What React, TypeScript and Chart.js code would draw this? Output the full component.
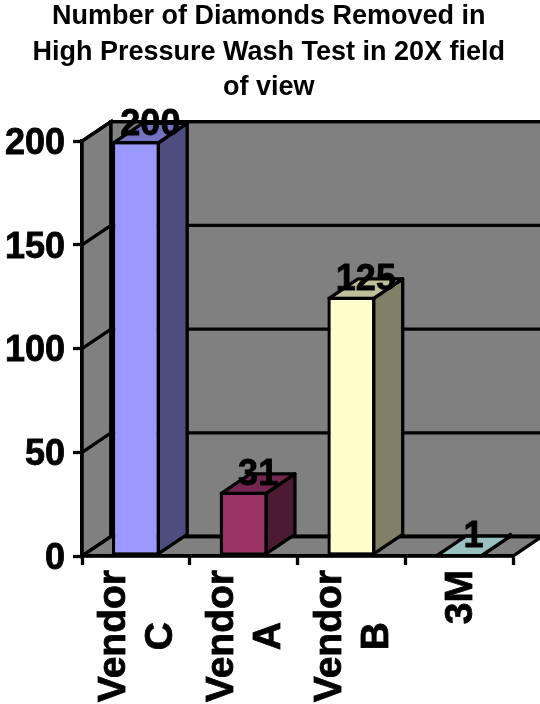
import React, { useEffect, useRef } from "react";
import { Chart, registerables } from "chart.js";

Chart.register(...registerables);

const categories: string[][] = [["Vendor", "C"], ["Vendor", "A"], ["Vendor", "B"], ["3M"]];
const values: number[] = [200, 31, 125, 1];
const frontColors = ["#9999FF", "#993366", "#FFFFCC", "#CCFFFF"];
const sideColors = ["#4D4D80", "#4D1A33", "#808066", "#668080"];
const topColors = ["#7373BF", "#732650", "#BFBF99", "#99BFBF"];
const titleLines = [
  "Number of Diamonds Removed in",
  "High Pressure Wash Test in 20X field",
  "of view",
];

const FONT = "'Liberation Sans', Arial, sans-serif";
const DX = 29;
const DY = 19.5;
const LINE = 3.3;

function poly(ctx: CanvasRenderingContext2D, pts: number[][], fill?: string) {
  ctx.beginPath();
  pts.forEach(([x, y], i) => (i ? ctx.lineTo(x, y) : ctx.moveTo(x, y)));
  ctx.closePath();
  if (fill) {
    ctx.fillStyle = fill;
    ctx.fill();
  }
  ctx.stroke();
}

function heavyText(ctx: CanvasRenderingContext2D, s: string, x: number, y: number) {
  ctx.fillText(s, x, y);
  ctx.strokeText(s, x, y);
}

const threeD = {
  id: "threeD",
  beforeDraw(chart: any) {
    const { ctx, chartArea: a, scales } = chart;
    const yS = scales.y;
    ctx.save();
    ctx.strokeStyle = "#000";
    ctx.lineWidth = LINE;
    const t = a.top, b = a.bottom, l = a.left, r = a.right;
    poly(ctx, [[l, b], [l + DX, b - DY], [l + DX, t - DY], [l, t]], "#808080");
    poly(ctx, [[l + DX, t - DY], [r + DX, t - DY], [r + DX, b - DY], [l + DX, b - DY]], "#808080");
    poly(ctx, [[l, b], [r, b], [r + DX, b - DY], [l + DX, b - DY]], "#808080");
    yS.ticks.forEach((tk: any) => {
      const y = yS.getPixelForValue(tk.value);
      ctx.beginPath();
      ctx.moveTo(l, y);
      ctx.lineTo(l + DX, y - DY);
      ctx.lineTo(r + DX, y - DY);
      ctx.stroke();
    });
    ctx.restore();
  },
  beforeDatasetsDraw(chart: any) {
    const { ctx } = chart;
    const meta = chart.getDatasetMeta(0);
    ctx.save();
    ctx.strokeStyle = "#000";
    ctx.lineWidth = LINE;
    ctx.lineJoin = "round";
    meta.data.forEach((bar: any, i: number) => {
      const x0 = bar.x - bar.width / 2 + LINE / 2;
      const x1 = bar.x + bar.width / 2 - LINE / 2;
      const top = bar.y + LINE / 2;
      const base = bar.base - LINE / 2;
      poly(ctx, [[x1, top], [x1 + DX, top - DY], [x1 + DX, base - DY], [x1, base]], sideColors[i]);
      poly(ctx, [[x0, top], [x1, top], [x1 + DX, top - DY], [x0 + DX, top - DY]], topColors[i]);
    });
    ctx.restore();
  },
  afterDatasetsDraw(chart: any) {
    const { ctx, scales, chartArea: a } = chart;
    const meta = chart.getDatasetMeta(0);
    ctx.save();
    ctx.fillStyle = "#000";
    ctx.strokeStyle = "#000";
    ctx.lineWidth = 0.8;
    ctx.font = `bold 36px ${FONT}`;
    ctx.textAlign = "center";
    ctx.textBaseline = "middle";
    meta.data.forEach((bar: any, i: number) => {
      heavyText(ctx, String(values[i]), bar.x + DX / 2, bar.y - DY + 3);
    });
    // category labels, rotated, with their lines centred on one another
    ctx.font = `bold 39px ${FONT}`;
    const lh = 47;
    categories.forEach((lines, i) => {
      const x = scales.x.getPixelForValue(i);
      const widest = Math.max(...lines.map((s) => ctx.measureText(s).width));
      ctx.save();
      ctx.translate(x, a.bottom + 14 + widest / 2);
      ctx.rotate(-Math.PI / 2);
      lines.forEach((s, j) => {
        heavyText(ctx, s, 0, (j - (lines.length - 1) / 2) * lh + 2);
      });
      ctx.restore();
    });
    ctx.restore();
  },
};

export default function App() {
  const ref = useRef<HTMLCanvasElement>(null);
  useEffect(() => {
    const chart = new Chart(ref.current!, {
      type: "bar",
      data: {
        labels: categories as any,
        datasets: [
          {
            data: values,
            backgroundColor: frontColors,
            borderColor: "#000",
            borderWidth: LINE,
            borderSkipped: false,
            barPercentage: 0.445,
            categoryPercentage: 1,
          },
        ],
      },
      plugins: [threeD],
      options: {
        animation: false,
        responsive: false,
        devicePixelRatio: 1,
        layout: { padding: { left: 24.5, right: 27, top: 0, bottom: 0 } },
        plugins: {
          legend: { display: false },
          tooltip: { enabled: false },
          title: {
            display: true,
            text: titleLines,
            color: "#000",
            font: { family: FONT, weight: "bold", size: 27, lineHeight: 1.31 },
            padding: { top: -1, bottom: 36 },
          },
        },
        scales: {
          x: {
            afterFit(s: any) {
              s.height = 148;
            },
            grid: { drawOnChartArea: false, drawTicks: true, tickLength: 9, tickColor: "#000", tickWidth: LINE },
            border: { display: true, color: "#000", width: LINE },
            ticks: { display: false },
          },
          y: {
            min: 0,
            max: 200,
            afterFit(s: any) {
              s.width = 57.5;
              s._computeLabelArea = () => undefined;
            },
            grid: { drawOnChartArea: false, drawTicks: true, tickLength: 9, tickColor: "#000", tickWidth: LINE },
            border: { display: true, color: "#000", width: LINE },
            ticks: {
              stepSize: 50,
              color: "#000",
              padding: 8,
              labelOffset: 3,
              textStrokeColor: "#000",
              textStrokeWidth: 0.8,
              font: { family: FONT, weight: "bold", size: 36 },
            },
          },
        },
      } as any,
    });
    return () => chart.destroy();
  }, []);
  return (
    <div style={{ position: "absolute", left: 0, top: 0, width: 540, height: 704 }}>
      <canvas ref={ref} width={540} height={704} style={{ display: "block" }} />
    </div>
  );
}
